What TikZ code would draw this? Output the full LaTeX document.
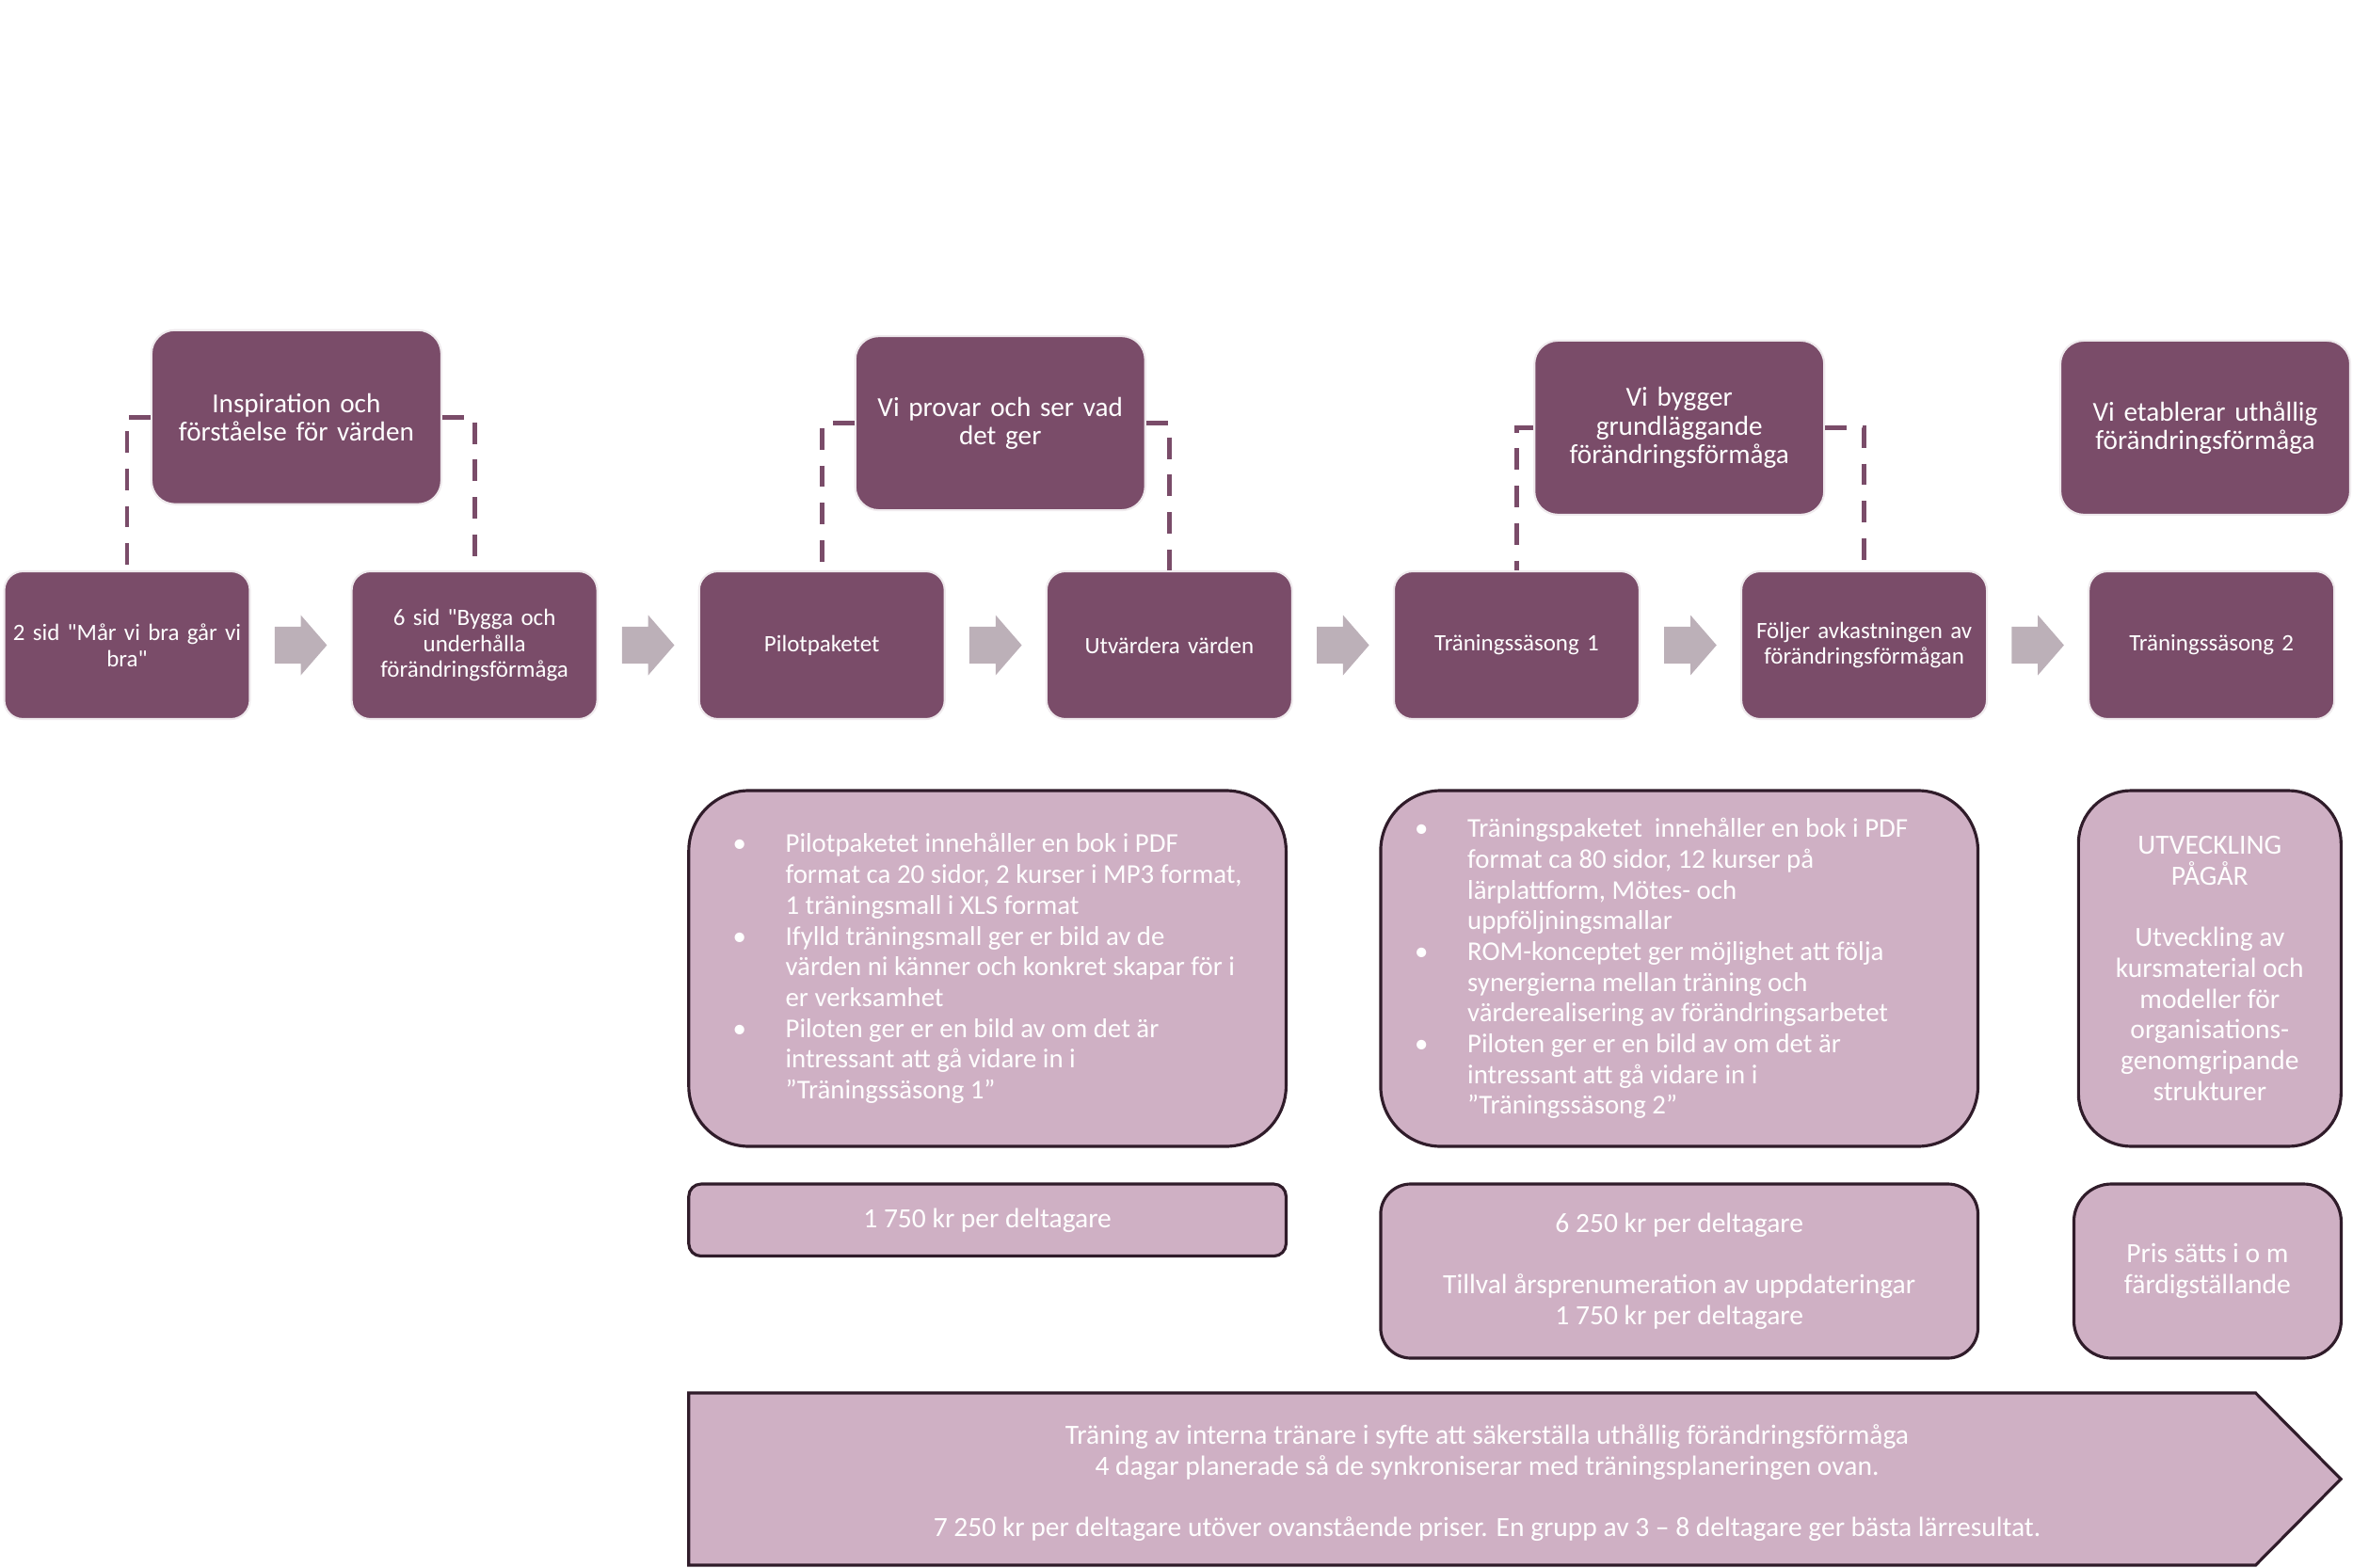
\documentclass[tikz,border=0pt]{standalone}
\usepackage{fontspec}
\setmainfont{Carlito}
\usetikzlibrary{positioning,calc}

\definecolor{plum}{RGB}{122,76,105}
\definecolor{lilac}{RGB}{207,176,196}
\definecolor{lilacedge}{RGB}{48,28,42}
\definecolor{greyarrow}{RGB}{188,176,184}
\newcommand{\punkt}{\makebox[0.56cm][l]{\textbullet}}
\newcommand{\fort}{\hspace*{0.56cm}}

\tikzset{
	stage/.style={rectangle, rounded corners=0.2cm, fill=plum, draw=plum!12, line width=0.6pt, text=white, minimum width=2.61cm, minimum height=1.57cm, text width=2.5cm, align=center, inner sep=0pt, font=\fontsize{7.1}{7.9}\selectfont},
	phase/.style={rectangle, rounded corners=0.25cm, fill=plum, draw=plum!12, line width=0.6pt, text=white, minimum width=3.08cm, minimum height=1.85cm, text width=2.9cm, align=center, inner sep=0pt, font=\fontsize{8.3}{8.6}\selectfont},
	flow/.pic={\fill [greyarrow] (-0.278,0.197) -- (0,0.197) -- (0,0.32) -- (0.278,0) -- (0,-0.32) -- (0,-0.197) -- (-0.278,-0.197) -- cycle;},
	link/.style={draw=plum, line width=1.4pt, dash pattern=on 6.5pt off 4.8pt},
	note/.style={rectangle, fill=lilac, draw=lilacedge, line width=0.9pt, text=white, inner sep=0pt, font=\fontsize{8.4}{9.3}\selectfont},
	bullets/.style={note, rounded corners=0.64cm, minimum width=6.346cm, minimum height=3.78cm, align=left, font=\fontsize{8.2}{9.3}\selectfont}
}

\begin{document}
\begin{tikzpicture}
		\useasboundingbox (0,0) rectangle (25,-16.66);
		\node [stage] (sid2) at (1.35,-6.855) {2 sid \textquotedbl Mår vi bra går vi\\bra\textquotedbl};
		\node [stage, right=1.06cm of sid2] (sid6) {6 sid \textquotedbl Bygga och\\underhålla\\förändringsförmåga};
		\node [stage, right=1.06cm of sid6] (pilot) {Pilotpaketet};
		\node [stage, right=1.06cm of pilot] (utv) {Utvärdera värden};
		\node [stage, right=1.06cm of utv] (sas1) {Träningssäsong 1};
		\node [stage, right=1.06cm of sas1] (foljer) {Följer avkastningen av\\förändringsförmågan};
		\node [stage, right=1.06cm of foljer] (sas2) {Träningssäsong 2};
		\pic at ($(sid2.east)!0.5!(sid6.west)$) {flow};
		\pic at ($(sid6.east)!0.5!(pilot.west)$) {flow};
		\pic at ($(pilot.east)!0.5!(utv.west)$) {flow};
		\pic at ($(utv.east)!0.5!(sas1.west)$) {flow};
		\pic at ($(sas1.east)!0.5!(foljer.west)$) {flow};
		\pic at ($(foljer.east)!0.5!(sas2.west)$) {flow};

		\node [phase] (insp) at (3.149,-4.432) {Inspiration och\\förståelse för värden};
		\node [phase] (prov) at (10.627,-4.496) {Vi provar och ser vad\\det ger};
		\node [phase] (bygg) at (17.842,-4.544) {Vi bygger\\grundläggande\\förändringsförmåga};
		\node [phase] (etab) at (23.43,-4.544) {Vi etablerar uthållig\\förändringsförmåga};
		\draw [link] (insp.west) -| (sid2.north);
		\draw [link] (insp.east) -| (sid6.north);
		\draw [link] (prov.west) -| (pilot.north);
		\draw [link] (prov.east) -| (utv.north);
		\draw [link] (bygg.west) -| (sas1.north);
		\draw [link] (bygg.east) -| (foljer.north);

		\node [bullets] (pilotinfo) at (10.491,-10.29) {\punkt Pilotpaketet innehåller en bok i PDF\\\fort format ca 20 sidor, 2 kurser i MP3 format,\hspace*{0.26cm}\\\fort 1 träningsmall i XLS format\\
			\punkt Ifylld träningsmall ger er bild av de\\\fort värden ni känner och konkret skapar för i\\\fort er verksamhet\\
			\punkt Piloten ger er en bild av om det är\\\fort intressant att gå vidare in i\\\fort ”Träningssäsong 1”};
		\node [note, rounded corners=0.13cm, minimum width=6.346cm, minimum height=0.765cm, align=center] (pilotpris) at (10.491,-12.963) {1 750 kr per deltagare};
		\node [bullets] (sasinfo) at (17.842,-10.29) {\punkt Träningspaketet\ \ innehåller en bok i PDF\hspace*{0.38cm}\\\fort format ca 80 sidor, 12 kurser på\\\fort lärplattform, Mötes- och\\\fort uppföljningsmallar\\
			\punkt ROM-konceptet ger möjlighet att följa\\\fort synergierna mellan träning och\\\fort värderealisering av förändringsarbetet\\
			\punkt Piloten ger er en bild av om det är\\\fort intressant att gå vidare in i\\\fort ”Träningssäsong 2”};
		\node [note, rounded corners=0.32cm, minimum width=6.346cm, minimum height=1.85cm, align=center] (saspris) at (17.842,-13.505) {6 250 kr per deltagare\\[9.3pt]Tillval årsprenumeration av uppdateringar\\1 750 kr per deltagare};
		\node [note, rounded corners=0.56cm, minimum width=2.79cm, minimum height=3.78cm, align=center] (utvinfo) at (23.478,-10.29) {UTVECKLING\\PÅGÅR\\[9.3pt]Utveckling av\\kursmaterial och\\modeller för\\organisations-\\genomgripande\\strukturer};
		\node [note, rounded corners=0.4cm, minimum width=2.84cm, minimum height=1.85cm, align=center] (utvpris) at (23.454,-13.505) {Pris sätts i o m\\färdigställande};

		\draw [fill=lilac, draw=lilacedge, line width=0.9pt] (7.318,-14.80) -- (23.965,-14.80) -- (24.87,-15.715) -- (23.965,-16.63) -- (7.318,-16.63) -- cycle;
		\node [text=white, align=center, font=\fontsize{8.4}{9.3}\selectfont] (coach) at (15.8,-15.76) {Träning av interna tränare i syfte att säkerställa uthållig förändringsförmåga\\4 dagar planerade så de synkroniserar med träningsplaneringen ovan.\\[9.3pt]7 250 kr per deltagare utöver ovanstående priser. En grupp av 3 – 8 deltagare ger bästa lärresultat.};
\end{tikzpicture}
\end{document}
